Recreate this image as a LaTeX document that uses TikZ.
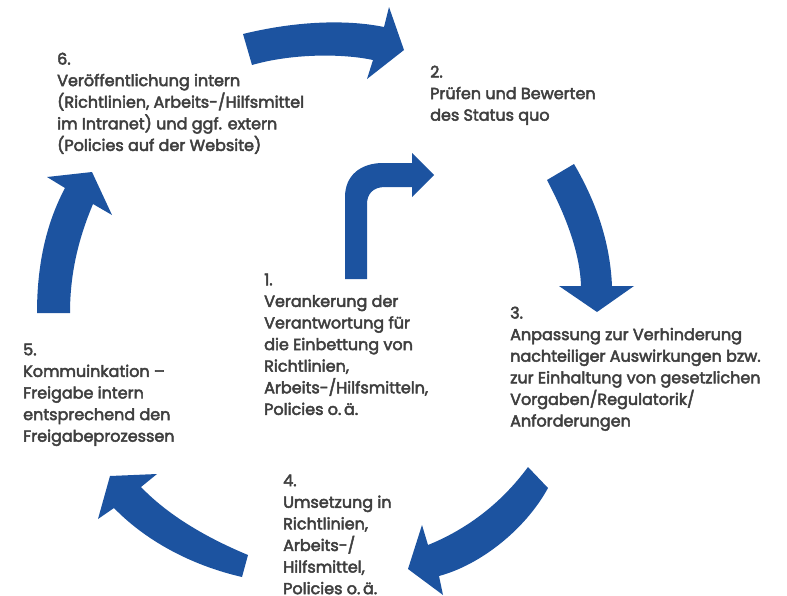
\documentclass[tikz,border=0pt]{standalone}
\usepackage{fontspec}
\newfontfamily\lblfont{Poppins}[FakeBold=3]
\definecolor{arrowblue}{HTML}{1C53A0}
\definecolor{txtgray}{HTML}{3F3F3F}
\tikzset{
  cyclearrow/.style={fill=arrowblue, draw=none},
  steptext/.style={anchor=north west, inner sep=0pt, align=left, text=txtgray,
    font=\lblfont\fontsize{16}{21.6}\selectfont}
}
\begin{document}
\begin{tikzpicture}[x=1pt,y=-1pt]
\useasboundingbox (0,0) rectangle (787,595);
% arrow 6 -> 2 (top)
\fill[cyclearrow] (243,34) .. controls (300,20) and (350,20) .. (384,27)
  -- (389,7) -- (404,50) -- (367,79) -- (373,60)
  .. controls (340,53) and (290,54) .. (252,65) -- cycle;
% arrow 2 -> 3 (right)
\fill[cyclearrow] (547,180) .. controls (568,220) and (580,255) .. (581,286)
  -- (559,286) -- (597,312) -- (634,286) -- (612,286)
  .. controls (610,240) and (595,200) .. (574,164) -- cycle;
% arrow 3 -> 4 (lower right)
\fill[cyclearrow] (528,467) .. controls (500,505) and (465,530) .. (428,545)
  -- (422,525) -- (408,569) -- (443,595) -- (439,576)
  .. controls (480,565) and (525,530) .. (548,488) -- cycle;
% arrow 4 -> 5 (lower left)
\fill[cyclearrow] (248,555) .. controls (200,535) and (165,512) .. (141,487)
  -- (157,474) -- (110,476) -- (98,519) -- (114,508)
  .. controls (145,540) and (190,565) .. (242,577) -- cycle;
% arrow 5 -> 6 (left)
\fill[cyclearrow] (37,313) .. controls (37,260) and (48,220) .. (65,188)
  -- (47,177) -- (92,172) -- (112,215) -- (93,204)
  .. controls (80,235) and (70,270) .. (70,313) -- cycle;
% arrow 1 -> 2 (centre)
\fill[cyclearrow] (345,279) -- (345,197) .. controls (345,176) and (360,163) .. (383,163)
  -- (412,163) -- (412,153) -- (434,175) -- (412,197) -- (412,187) -- (385,187)
  .. controls (373,187) and (367,194) .. (367,204) -- (367,279) -- cycle;
% texts
\node[steptext] (t6) at (57,52.5) {6.\\Veröffentlichung intern\\(Richtlinien, Arbeits-/Hilfsmittel\\im Intranet) und ggf. extern\\(Policies auf der Website)};
\node[steptext] (t2) at (430,65.5) {2.\\Prüfen und Bewerten\\des Status quo};
\node[steptext] (t1) at (264,273.5) {1.\\Verankerung der\\Verantwortung für\\die Einbettung von\\Richtlinien,\\Arbeits-/Hilfsmitteln,\\Policies o.\,ä.};
\node[steptext] (t3) at (510,306.5) {3.\\Anpassung zur Verhinderung\\nachteiliger Auswirkungen bzw.\\zur Einhaltung von gesetzlichen\\Vorgaben/Regulatorik/\\Anforderungen};
\node[steptext] (t5) at (23,343.5) {5.\\Kommuinkation –\\Freigabe intern\\entsprechend den\\Freigabeprozessen};
\node[steptext] (t4) at (283,474.5) {4.\\Umsetzung in\\Richtlinien,\\Arbeits-/\\Hilfsmittel,\\Policies o.\,ä.};
\end{tikzpicture}
\end{document}
